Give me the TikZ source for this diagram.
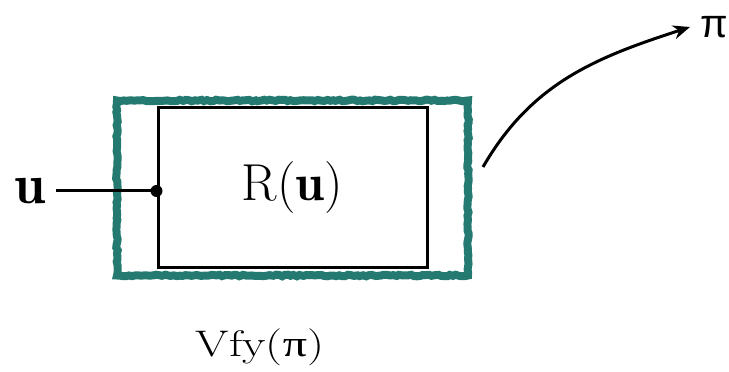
\documentclass[tikz,border=0pt]{standalone}
\usepackage{fontspec}
\usepackage{graphicx}
\usetikzlibrary{arrows.meta,positioning,decorations.pathmorphing}
\newfontfamily\greeksans{Liberation Sans}
\newfontfamily\greekserif{Liberation Serif}
\definecolor{frameteal}{RGB}{36,122,112}

\begin{document}
\begin{tikzpicture}[x=1pt,y=1pt,
  frame/.style={draw=frameteal, line width=8pt, minimum width=351pt, minimum height=175pt,
    decorate, decoration={random steps, segment length=3pt, amplitude=0.8pt}},
  box/.style={draw, line width=3pt, minimum width=269pt, minimum height=160pt,
    font=\fontsize{52}{60}\selectfont},
  wire/.style={line width=3pt}]
\useasboundingbox (0,0) rectangle (729,372);

\node[frame] (vfy) at (292.5,184) {};
\node[box] (r) at (292.5,184) {R($\mathbf{u}$)};
\node[inner sep=0pt, inner xsep=10pt, font=\fontsize{56}{64}\selectfont] (u) at (30,181) {$\mathbf{u}$};
\node[anchor=west, inner sep=0pt, inner xsep=10pt, font=\fontsize{40}{48}\selectfont] (pi) at (690,345) {\greeksans π};
\node[font=\fontsize{37}{44}\selectfont] (vlabel) at (260,25) {\scalebox{1.3}[1]{Vfy(\greekserif π\rmfamily)}};
\coordinate (start) at (483,205);
\coordinate (tap) at (r.west |- u.east);

\draw[wire] (u.east) -- (tap);
\fill (tap) circle (6pt);
\draw[line width=3pt, -{Stealth[length=17pt,width=14pt]}] (start) to[out=60, in=198] (pi.west);
\end{tikzpicture}
\end{document}
